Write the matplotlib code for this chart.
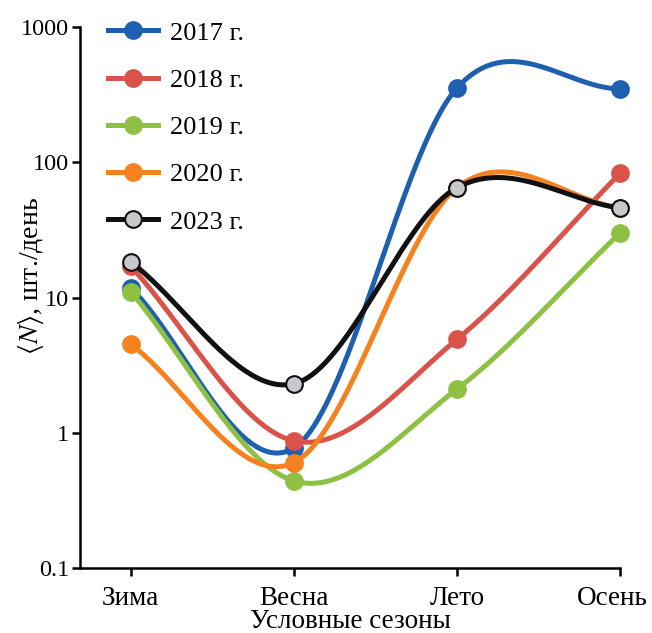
import numpy as np
import matplotlib.pyplot as plt
from matplotlib.transforms import ScaledTranslation

plt.rcParams['font.family'] = ['Liberation Serif', 'DejaVu Serif']
plt.rcParams['mathtext.fontset'] = 'stix'

seasons = ['Зима', 'Весна', 'Лето', 'Осень']
years = ['2017 г.', '2018 г.', '2019 г.', '2020 г.', '2023 г.']
n2017 = [11.8, 0.77, 355, 350]
n2018 = [17.0, 0.87, 4.9, 83]
n2019 = [11.0, 0.44, 2.1, 30]
n2020 = [4.5, 0.60, 65, 46]
n2023 = [18.3, 2.3, 65, 46]
colors = ['#1f5fb0', '#d9534a', '#8dc043', '#f5821f', '#111111']
face = ['#1f5fb0', '#d9534a', '#8dc043', '#f5821f', '#c8c9cd']


def smooth(vals, steps=100):
    # Catmull-Rom curve through the points, in log space
    y = np.log10(vals)
    n = len(y)
    m = np.zeros(n)
    m[0] = y[1] - y[0]
    m[-1] = y[-1] - y[-2]
    m[1:-1] = (y[2:] - y[:-2]) / 2
    xs, ys = [], []
    for i in range(n - 1):
        last = i == n - 2
        t = np.linspace(0, 1, steps + 1 if last else steps, endpoint=last)
        h00 = 2 * t**3 - 3 * t**2 + 1
        h10 = t**3 - 2 * t**2 + t
        h01 = -2 * t**3 + 3 * t**2
        h11 = t**3 - t**2
        xs.append(i + t)
        ys.append(h00 * y[i] + h10 * m[i] + h01 * y[i + 1] + h11 * m[i + 1])
    return np.concatenate(xs), 10 ** np.concatenate(ys)


fig = plt.figure(figsize=(6.52, 6.33), dpi=100)
ax = fig.add_axes([0.123, 0.103, 0.828, 0.854])

for vals, lab, c, fc in zip([n2017, n2018, n2019, n2020, n2023], years, colors, face):
    xs, ys = smooth(vals)
    ax.plot(xs, ys, color=c, lw=3.6, label=lab, marker='o', markevery=[0, 100, 200, 300],
            markersize=12, markerfacecolor=fc, markeredgecolor=c, markeredgewidth=1.5,
            clip_on=False)

ax.set_yscale('log')
ax.set_ylim(0.1, 1000)
ax.set_xlim(-0.31, 3.0)
ax.set_yticks([0.1, 1, 10, 100, 1000])
ax.set_yticklabels(['0.1', '1', '10', '100', '1000'])
ax.minorticks_off()
ax.set_xticks(range(4))
ax.set_xticklabels(seasons)
for s in ['top', 'right']:
    ax.spines[s].set_visible(False)
for s in ['left', 'bottom']:
    ax.spines[s].set_linewidth(1.8)
ax.tick_params(width=1.8, length=6, direction='out')
ax.tick_params(axis='y', labelsize=17.5, pad=2)
ax.tick_params(axis='x', labelsize=19.5, pad=7)
# last label sits a bit left so it stays inside the figure
lbl = ax.get_xticklabels()[-1]
lbl.set_transform(lbl.get_transform() + ScaledTranslation(-0.08, 0, fig.dpi_scale_trans))

ax.set_xlabel('Условные сезоны', fontsize=19.5, labelpad=-1)
ax.set_ylabel(r'$\langle N\rangle$, шт./день', fontsize=20)
ax.yaxis.set_label_coords(-0.064, 0.54)

ax.legend(loc='upper left', bbox_to_anchor=(0.008, 1.055), frameon=False, fontsize=19,
          handlelength=1.9, labelspacing=0.9, handletextpad=0.45)

plt.savefig('out.png', dpi=100)
